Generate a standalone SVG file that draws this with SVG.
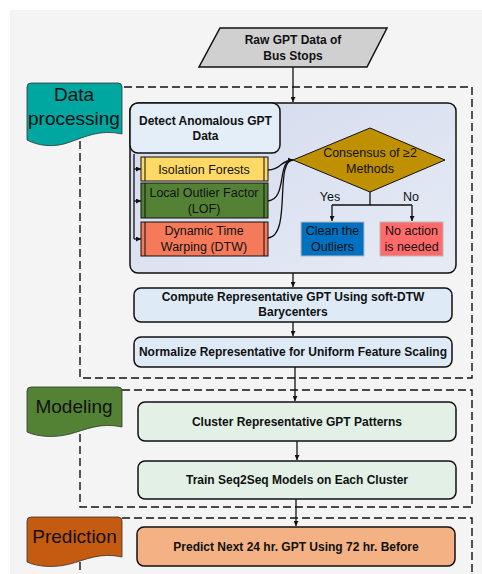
<svg xmlns="http://www.w3.org/2000/svg" width="482" height="574" viewBox="0 0 482 574">
<style>
.b{font-family:"Liberation Sans",Arial,sans-serif;font-weight:bold;font-size:12px;fill:#111;text-anchor:middle}
.r{font-family:"Liberation Sans",Arial,sans-serif;font-size:12.5px;fill:#111;text-anchor:middle}
.t{font-family:"Liberation Sans",Arial,sans-serif;font-size:19px;fill:#111;text-anchor:middle}
.box{stroke:#111;stroke-width:1.5}
.dash{fill:none;stroke:#111;stroke-width:1.4;stroke-dasharray:8 4}
.ln{fill:none;stroke:#111;stroke-width:1.3}
.tab{stroke:#333;stroke-width:0.8}
.m{stroke:#111;stroke-width:1}
</style>
<defs>
<marker id="ah" viewBox="0 0 10 10" refX="10" refY="5" markerWidth="5" markerHeight="5" orient="auto" markerUnits="userSpaceOnUse">
<path d="M0,0 L10,5 L0,10 Z" fill="#111"/>
</marker>
<linearGradient id="g1" x1="0" y1="0" x2="1" y2="1">
<stop offset="0" stop-color="#d3daed"/>
<stop offset="1" stop-color="#e6ebf5"/>
</linearGradient>
</defs>
<rect x="10" y="10" width="472" height="564" fill="#f4f4f4"/>

<g id="sections">
<path class="dash" d="M80,141 V378 H472 V87 H122"/>
<path class="dash" d="M122,390 H472 V507 H80 V432"/>
<path class="dash" d="M122,518 H472 V574 M80,562 V574"/>
</g>

<g id="tab-data">
<path class="tab" fill="#00a6a0" d="M27,87 Q27,83 31,83 H118 Q122,83 122,87 V134 C100,129 85,137 70,142 C55,148 38,146 27,140 Z"/>
<text class="t" x="74" y="101">Data</text>
<text class="t" x="74" y="125">processing</text>
</g>
<g id="tab-model">
<path class="tab" fill="#548235" d="M27,391 Q27,387 31,387 H118 Q122,387 122,391 V427 C100,422 85,430 70,434 C55,438 38,437 27,432 Z"/>
<text class="t" x="74" y="413">Modeling</text>
</g>
<g id="tab-pred">
<path class="tab" fill="#c55a11" d="M27,521 Q27,517 31,517 H118 Q122,517 122,521 V557 C100,552 85,560 70,564 C55,568 38,567 27,562 Z"/>
<text class="t" x="74.5" y="543">Prediction</text>
</g>

<g id="raw">
<path class="box" fill="#d0d0d0" d="M220,28 H387 L367,67 H199 Z"/>
<text class="b" x="293" y="44">Raw GPT Data of</text>
<text class="b" x="293" y="60">Bus Stops</text>
</g>

<g id="anomaly-container">
<rect class="box" x="130" y="103" width="326" height="170" rx="8" fill="url(#g1)"/>
</g>
<g id="detect">
<rect class="box" x="130" y="103" width="150" height="50" rx="8" fill="#e4eef9"/>
<text class="b" x="205.5" y="125">Detect Anomalous GPT</text>
<text class="b" x="205.5" y="140">Data</text>
</g>
<g id="iforest">
<rect class="m" x="141" y="157" width="127" height="24" fill="#ffd966"/>
<path class="m" d="M145,157 V181 M264,157 V181"/>
<text class="r" x="204" y="174">Isolation Forests</text>
</g>
<g id="lof">
<rect class="m" x="141" y="183" width="127" height="35" fill="#548235"/>
<path class="m" d="M145,183 V218 M264,183 V218"/>
<text class="r" x="204" y="197">Local Outlier Factor</text>
<text class="r" x="204" y="213">(LOF)</text>
</g>
<g id="dtw">
<rect class="m" x="141" y="222" width="127" height="34" fill="#f47a5a"/>
<path class="m" d="M145,222 V256 M264,222 V256"/>
<text class="r" x="204" y="235">Dynamic Time</text>
<text class="r" x="204" y="251">Warping (DTW)</text>
</g>
<g id="consensus">
<path class="m" fill="#bf9000" d="M293,160 L370,128 L445,160 L370,192 Z"/>
<text class="r" x="370" y="157">Consensus of ≥2</text>
<text class="r" x="370" y="173">Methods</text>
</g>
<g id="clean">
<rect x="301" y="222" width="63" height="34" fill="#0070c0" stroke="#b8b8b8" stroke-width="1"/>
<text class="r" x="332.5" y="235">Clean the</text>
<text class="r" x="332.5" y="251">Outliers</text>
</g>
<g id="noaction">
<rect x="380" y="222" width="63" height="34" fill="#ff6b6b" stroke="#b8b8b8" stroke-width="1"/>
<text class="r" x="411.5" y="235">No action</text>
<text class="r" x="411.5" y="251">is needed</text>
</g>

<g id="compute">
<rect class="box" x="134" y="288" width="318" height="34" rx="7" fill="#deebf7"/>
<text class="b" x="293" y="301">Compute Representative GPT Using soft-DTW</text>
<text class="b" x="293" y="316">Barycenters</text>
</g>
<g id="normalize">
<rect class="box" x="134" y="337" width="318" height="30" rx="7" fill="#deebf7"/>
<text class="b" x="293" y="356">Normalize Representative for Uniform Feature Scaling</text>
</g>
<g id="cluster">
<rect class="box" x="138" y="402" width="318" height="39" rx="7" fill="#e2f0e6"/>
<text class="b" x="297" y="426">Cluster Representative GPT Patterns</text>
</g>
<g id="train">
<rect class="box" x="138" y="461" width="318" height="38" rx="7" fill="#e2f0e6"/>
<text class="b" x="297" y="484">Train Seq2Seq Models on Each Cluster</text>
</g>
<g id="predict">
<rect class="box" x="137" y="527" width="318" height="39" rx="7" fill="#f4b183"/>
<text class="b" x="296" y="551">Predict Next 24 hr. GPT Using 72 hr. Before</text>
</g>

<g id="connectors">
<path class="ln" d="M293,67 V102" marker-end="url(#ah)"/>
<path class="ln" d="M134,154 V239"/>
<path class="ln" d="M134,169 H141" marker-end="url(#ah)"/>
<path class="ln" d="M134,201 H141" marker-end="url(#ah)"/>
<path class="ln" d="M134,239 H141" marker-end="url(#ah)"/>
<path class="ln" d="M268,170 C282,170 280,160 293,160" marker-end="url(#ah)"/>
<path class="ln" d="M268,201 C288,199 276,160 293,160"/>
<path class="ln" d="M268,238 C292,236 274,160 293,160"/>
<path class="ln" d="M370,192 V205 M332,205 H412"/>
<path class="ln" d="M332,205 V221" marker-end="url(#ah)"/>
<path class="ln" d="M412,205 V221" marker-end="url(#ah)"/>
<text class="r" x="330" y="201">Yes</text>
<text class="r" x="411" y="201">No</text>
<path class="ln" d="M293,273 V287" marker-end="url(#ah)"/>
<path class="ln" d="M293,322 V336" marker-end="url(#ah)"/>
<path class="ln" d="M295,367 V401" marker-end="url(#ah)"/>
<path class="ln" d="M297,441 V460" marker-end="url(#ah)"/>
<path class="ln" d="M296,499 V526" marker-end="url(#ah)"/>
</g>
</svg>
